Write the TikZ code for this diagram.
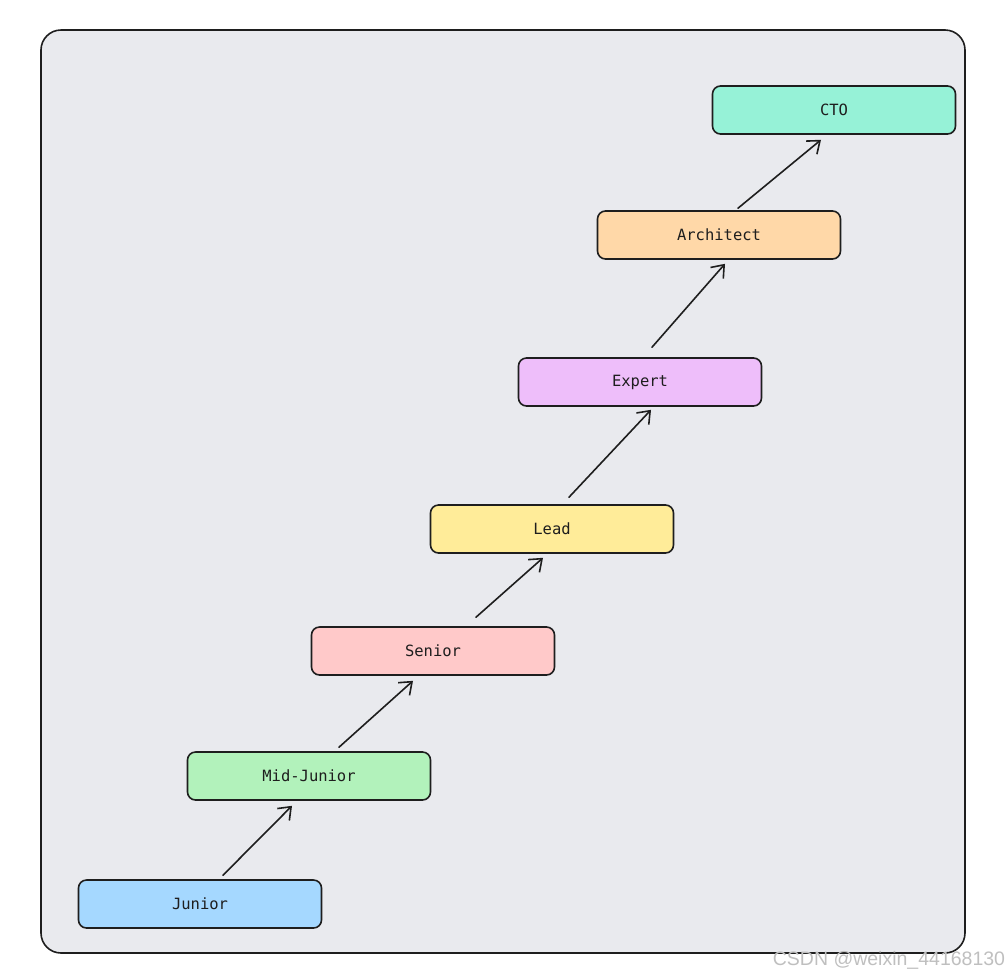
\documentclass[tikz,border=0pt]{standalone}
\usepackage{fontspec}
\setmonofont{DejaVu Sans Mono}
\newfontfamily\wmfont{Liberation Sans}
\usetikzlibrary{arrows.meta}
\definecolor{bgc}{HTML}{E9EAEE}
\definecolor{inkc}{HTML}{1E1E1E}
\definecolor{ctoc}{HTML}{96F2D7}
\definecolor{archc}{HTML}{FFD8A8}
\definecolor{expc}{HTML}{EEBEFA}
\definecolor{leadc}{HTML}{FFEC99}
\definecolor{senc}{HTML}{FFC9C9}
\definecolor{midc}{HTML}{B2F2BB}
\definecolor{junc}{HTML}{A5D8FF}
\tikzset{
  level/.style={draw=inkc, line width=1.6pt, rounded corners=8pt,
    minimum width=243pt, minimum height=48pt, inner sep=0pt,
    font=\ttfamily\fontsize{15.5}{18}\selectfont, text=inkc},
  promo/.style={draw=inkc, line width=1.6pt, line cap=round,
    -{Straight Barb[length=11pt,width=17pt,line width=1.6pt]}},
}
\begin{document}
\begin{tikzpicture}[x=1pt,y=-1pt]
\useasboundingbox (0,0) rectangle (1008,978);
\draw[fill=bgc, draw=inkc, line width=1.6pt, rounded corners=20pt] (41,30) rectangle (965,953);
\node[level, fill=ctoc]  (cto)    at (834,110) {CTO};
\node[level, fill=archc] (arch)   at (719,235) {Architect};
\node[level, fill=expc]  (expert) at (640,382) {Expert};
\node[level, fill=leadc] (lead)   at (552,529) {Lead};
\node[level, fill=senc]  (senior) at (433,651) {Senior};
\node[level, fill=midc]  (mid)    at (309,776) {Mid-Junior};
\node[level, fill=junc]  (junior) at (200,904) {Junior};
\draw[promo] ([xshift=23pt,yshift=4pt]junior.north) -- ([xshift=-17pt,yshift=-5pt]mid.south);
\draw[promo] ([xshift=30pt,yshift=4pt]mid.north) -- ([xshift=-20pt,yshift=-5pt]senior.south);
\draw[promo] ([xshift=43pt,yshift=9pt]senior.north) -- ([xshift=-9pt,yshift=-4pt]lead.south);
\draw[promo] ([xshift=17pt,yshift=7pt]lead.north) -- ([xshift=11pt,yshift=-3pt]expert.south);
\draw[promo] ([xshift=12pt,yshift=10pt]expert.north) -- ([xshift=6pt,yshift=-4pt]arch.south);
\draw[promo] ([xshift=19pt,yshift=2pt]arch.north) -- ([xshift=-13pt,yshift=-5pt]cto.south);
\node[text=black!25, font=\wmfont\fontsize{19.5}{22}\selectfont, inner sep=0pt] (wm) at (889,960) {CSDN @weixin\_44168130};
\end{tikzpicture}
\end{document}
